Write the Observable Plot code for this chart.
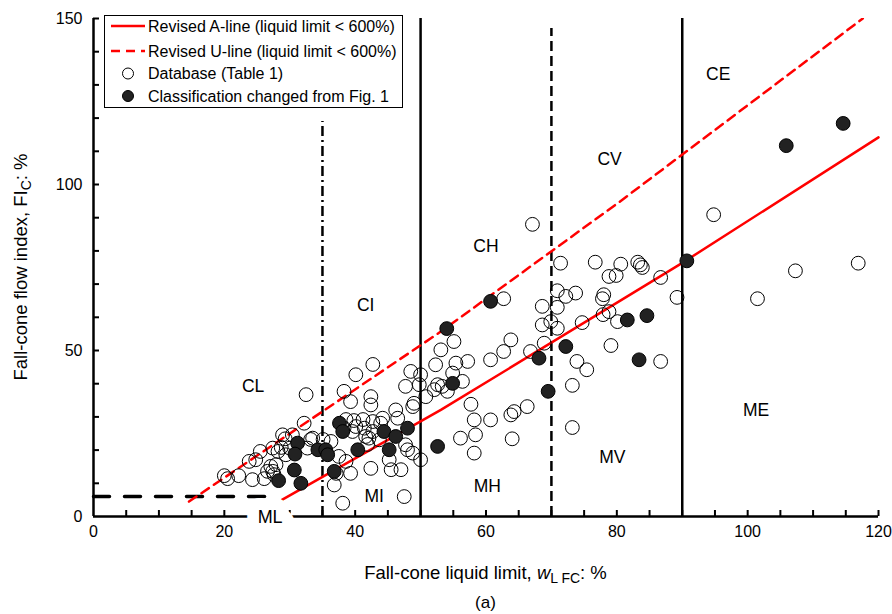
<!DOCTYPE html>
<html><head><meta charset="utf-8">
<script src="https://cdn.jsdelivr.net/npm/d3@7"></script>
<script src="https://cdn.jsdelivr.net/npm/@observablehq/plot@0.6"></script>
<style>
body{margin:0;background:#fff}
svg{font-family: Arial, "Liberation Sans", Helvetica, sans-serif}
</style>
</head><body><div id="chart"></div>
<script>
// Database (Table 1) — open circles
const openX = [20.0,20.5,22.2,24.3,26.1,23.8,24.8,25.5,27.4,27.1,27.4,27.9,26.6,28.9,29.3,30.4,30.0,29.4,32.2,32.5,28.2,28.7,27.6,33.2,32.7,33.5,
  38.3,39.3,40.1,42.7,42.4,38.6,39.8,41.2,42.7,43.9,40.1,41.4,42.7,42.1,43.7,38.3,39.6,41.6,41.9,42.4,36.8,38.1,37.1,39.3,35.1,36.3,37.5,38.6,
  48.5,50.0,49.8,47.7,46.2,48.8,49.0,46.5,47.7,48.0,50.0,45.2,45.5,47.0,47.5,44.2,48.8,42.4,
  55.1,53.1,52.3,55.4,54.9,57.2,52.6,53.3,54.1,56.4,50.8,52.1,56.1,57.7,58.2,58.4,58.2,60.7,60.7,62.7,63.8,66.8,62.7,63.8,64.3,66.3,64.0,
  67.1,71.4,70.9,72.2,68.6,70.9,68.6,69.9,70.9,68.9,73.7,
  76.7,80.6,83.2,83.6,83.9,78.8,79.9,86.7,89.2,78.0,77.8,77.9,78.8,80.1,74.7,79.1,73.9,75.4,73.2,86.7,73.2,
  94.8,107.3,116.9,101.5];
const openY = [12.3,11.4,12.3,11.1,11.4,16.6,17.1,19.6,20.6,15.1,13.6,15.6,13.6,24.6,23.4,24.6,20.6,18.6,28.1,36.7,19.6,20.8,12.6,23.2,20.6,23.6,
  37.7,34.6,42.7,45.8,33.6,29.2,28.9,29.2,28.6,28.1,27.1,26.6,25.6,23.6,23.1,26.6,25.6,24.1,21.7,14.5,9.5,4.0,13.0,13.0,23.2,22.6,18.1,16.6,
  43.7,42.7,39.7,39.2,32.1,33.1,34.1,29.6,21.6,20.1,17.1,17.1,14.1,14.1,6.0,29.6,19.1,36.1,
  52.7,50.2,45.7,46.2,43.2,46.7,39.7,39.2,37.7,40.7,36.1,38.2,23.6,33.8,29.1,24.6,19.1,29.1,47.2,49.7,53.2,49.7,65.6,30.6,31.6,33.1,23.4,
  88.0,76.3,68.0,66.3,63.3,63.0,57.7,58.7,56.7,52.2,67.3,
  76.6,76.0,76.6,75.8,75.0,72.3,72.6,72.0,66.0,66.8,65.6,60.8,61.7,58.7,58.4,51.5,46.7,44.2,39.5,46.7,26.8,
  90.9,74.0,76.3,65.6];
// Classification changed from Fig. 1 — filled circles
const changedX = [28.3,31.2,30.8,30.7,31.7,34.3,35.5,35.8,36.8,37.6,38.1,40.4,44.4,46.2,48.0,45.2,52.6,54.0,54.9,60.7,68.1,69.5,72.2,81.6,84.6,83.4,90.7,105.9,114.6];
const changedY = [10.8,22.1,18.8,14.0,10.0,20.1,20.1,18.6,13.6,28.1,25.6,20.1,25.6,24.1,26.6,20.1,21.1,56.6,40.1,64.8,47.7,37.7,51.2,59.2,60.5,47.2,77.0,111.7,118.4];

// Revised A-line and U-line
const aLineX = [28.8, 53.1, 89.7, 120];
const aLineY = [5.0, 32.1, 76.0, 114.2];
const uLineX = [14.6, 53.1, 80.5, 117.6];
const uLineY = [4.5, 55.7, 94.9, 150];
// Boundary lines
const solidBoundX = [50, 90];
const solidBoundTop = [150, 150];
const dashBoundX = [70];
const dashBoundTop = [147];
const dashDotBoundX = [35];
const dashDotBoundTop = [119];
const mlLineX = [0, 28];
const mlLineY = [6, 6];

// Zone labels
const zoneText = ["CL","CI","CH","CV","CE","ME","MV","MH","MI","ML"];
const zoneX = [24.4, 41.6, 60.0, 78.9, 95.5, 101.3, 79.3, 60.2, 42.9, 27.0];
const zoneY = [39.3, 63.5, 81.4, 107.5, 133.1, 32.0, 17.8, 9.0, 6.1, -0.3];

// Ticks
const xTickLabels = [0, 20, 40, 60, 80, 100, 120];
const xMinorTicks = [5,10,15,20,25,30,35,40,45,50,55,60,65,70,75,80,85,90,95,100,105,110,115,120];
const yTickLabels = [0, 50, 100, 150];
const yMinorTicks = [10,20,30,40,50,60,70,80,90,100,110,120,130,140,150];

const W = 892, H = 614, mL = 93, mR = 14, mT = 18, mB = 98;
const frameW = W - mL - mR, frameH = H - mT - mB;
// tick length (about 6 px) expressed in each scale's units
const xTickLen = 6 * 150 / frameH;
const yTickLen = 6 * 120 / frameW;

const openPts = openX.map((x, i) => ({x, y: openY[i]}));
const changedPts = changedX.map((x, i) => ({x, y: changedY[i]}));
const aLine = aLineX.map((x, i) => ({x, y: aLineY[i]}));
const uLine = uLineX.map((x, i) => ({x, y: uLineY[i]}));
const mlLine = mlLineX.map((x, i) => ({x, y: mlLineY[i]}));
const zones = zoneText.map((t, i) => ({t, x: zoneX[i], y: zoneY[i]}));
const zonesUpper = zones.filter(d => d.t !== "ML");
const zoneML = zones.filter(d => d.t === "ML");

const plot = Plot.plot({
  width: W, height: H,
  marginLeft: mL, marginRight: mR, marginTop: mT, marginBottom: mB,
  style: {fontSize: "16px", fontFamily: 'Arial, "Liberation Sans", sans-serif', color: "#000", background: "#fff"},
  x: {domain: [0, 120], ticks: xTickLabels, tickSize: 0, tickPadding: 9, label: null},
  y: {domain: [0, 150], ticks: yTickLabels, tickSize: 0, tickPadding: 11, label: null},
  marks: [
    Plot.ruleY([0], {stroke: "#000", strokeWidth: 2.5}),
    Plot.ruleX([0], {y1: 0, y2: 150, stroke: "#000", strokeWidth: 2.5}),
    Plot.ruleX(xMinorTicks, {x: d => d, y1: 0, y2: xTickLen, stroke: "#000", strokeWidth: 2}),
    Plot.ruleY(yMinorTicks, {y: d => d, x1: 0, x2: yTickLen, stroke: "#000", strokeWidth: 2}),
    Plot.ruleX(solidBoundX, {x: d => d, y1: 0, y2: (d, i) => solidBoundTop[i], stroke: "#000", strokeWidth: 2.5}),
    Plot.ruleX(dashBoundX, {x: d => d, y1: 0, y2: (d, i) => dashBoundTop[i], stroke: "#000", strokeWidth: 2.5, strokeDasharray: "10,5"}),
    Plot.ruleX(dashDotBoundX, {x: d => d, y1: 0, y2: (d, i) => dashDotBoundTop[i], stroke: "#000", strokeWidth: 2.5, strokeDasharray: "10,4,2,4"}),
    Plot.line(mlLine, {x: "x", y: "y", stroke: "#000", strokeWidth: 3.5, strokeDasharray: "16,15"}),
    Plot.line(uLine, {x: "x", y: "y", stroke: "#ff0000", strokeWidth: 2.5, strokeDasharray: "9,6", clip: true}),
    Plot.line(aLine, {x: "x", y: "y", stroke: "#ff0000", strokeWidth: 2.5}),
    Plot.dot(openPts, {x: "x", y: "y", r: 6.9, stroke: "#000", strokeWidth: 1, fill: "none"}),
    Plot.dot(changedPts, {x: "x", y: "y", r: 6.9, stroke: "#000", strokeWidth: 1, fill: "#222"}),
    Plot.text(zonesUpper, {x: "x", y: "y", text: "t", fontSize: 17.5, fill: "#000"}),
    Plot.text(zoneML, {x: "x", y: "y", text: "t", fontSize: 18, fill: "#000", stroke: "#fff", strokeWidth: 24})
  ]
});

const svg = d3.select(plot);
// Axis titles
const xt = svg.append("text").attr("x", mL + frameW / 2).attr("y", 579).attr("text-anchor", "middle")
  .attr("font-size", 18.5).attr("fill", "#000");
xt.append("tspan").text("Fall-cone liquid limit, ");
xt.append("tspan").attr("font-style", "italic").text("w");
xt.append("tspan").attr("font-size", 14).attr("dy", 4).text("L FC");
xt.append("tspan").attr("dy", -4).text(": %");

const yt = svg.append("text").attr("transform", `translate(27,${mT + frameH / 2}) rotate(-90)`)
  .attr("text-anchor", "middle").attr("font-size", 18.5).attr("fill", "#000");
yt.append("tspan").text("Fall-cone flow index, FI");
yt.append("tspan").attr("font-size", 14).attr("dy", 4).text("C");
yt.append("tspan").attr("dy", -4).text(": %");

svg.append("text").attr("x", mL + frameW / 2).attr("y", 608).attr("text-anchor", "middle")
  .attr("font-size", 17).attr("fill", "#000").text("(a)");

// Legend
const lg = svg.append("g").attr("text-anchor", "start");
lg.append("rect").attr("x", 104.5).attr("y", 15.5).attr("width", 298).attr("height", 92)
  .attr("fill", "#fff").attr("stroke", "#000").attr("stroke-width", 1);
const rows = [
  {label: "Revised A-line (liquid limit < 600%)", kind: "solid"},
  {label: "Revised U-line (liquid limit < 600%)", kind: "dash"},
  {label: "Database (Table 1)", kind: "open"},
  {label: "Classification changed from Fig. 1", kind: "filled"}
];
const rowY = [26, 51, 73.5, 96];
rows.forEach((r, i) => {
  const y = rowY[i];
  if (r.kind === "solid" || r.kind === "dash") {
    lg.append("line").attr("x1", 111).attr("x2", 145).attr("y1", y).attr("y2", y)
      .attr("stroke", "#ff0000").attr("stroke-width", 2.5)
      .attr("stroke-dasharray", r.kind === "dash" ? "9,6" : null);
  } else {
    lg.append("circle").attr("cx", 128).attr("cy", y).attr("r", 5.5)
      .attr("stroke", "#000").attr("stroke-width", 1)
      .attr("fill", r.kind === "filled" ? "#222" : "none");
  }
  lg.append("text").attr("x", 148).attr("y", y + 5.5).attr("text-anchor", "start")
    .attr("font-size", 16).attr("fill", "#000").text(r.label);
});

document.getElementById("chart").append(plot);
</script>
</body></html>
